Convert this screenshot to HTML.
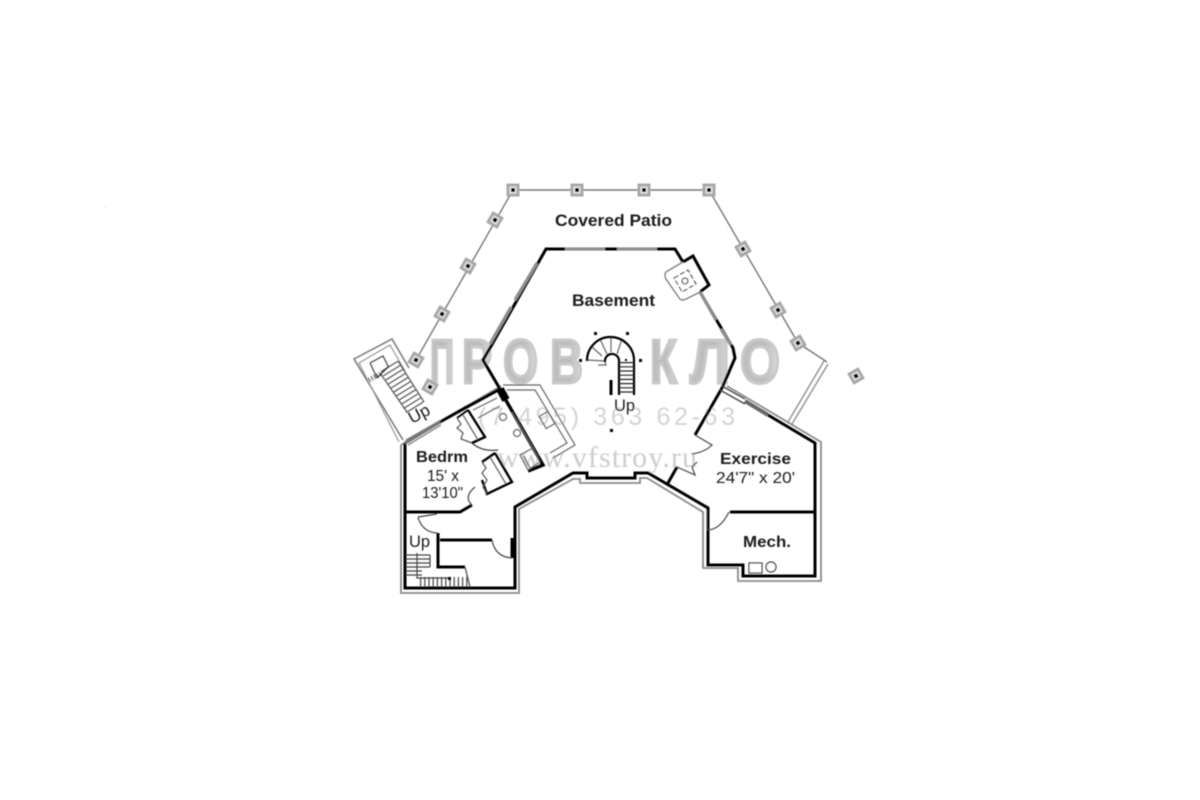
<!DOCTYPE html>
<html lang="en">
<head>
<meta charset="utf-8">
<title>Basement floor plan</title>
<style>
html,body{margin:0;padding:0;background:#fff;width:1200px;height:800px;overflow:hidden}
svg{display:block}
.lb{font-family:"Liberation Sans",Arial,sans-serif;font-weight:bold;fill:#1a1a1a}
.rg{font-family:"Liberation Sans",Arial,sans-serif;fill:#1a1a1a}
.logo{font-family:"Liberation Sans",Arial,sans-serif;font-weight:bold;font-size:62px;fill:url(#lg);stroke:#c9c9c9;stroke-width:3}
</style>
</head>
<body>
<svg width="1200" height="800" viewBox="0 0 1200 800" xmlns="http://www.w3.org/2000/svg">
<defs>
<linearGradient id="lg" x1="0" y1="0" x2="1" y2="0">
<stop offset="0" stop-color="#c0c0c0"/><stop offset=".6" stop-color="#bcbcbc"/><stop offset="1" stop-color="#dcdcdc"/>
</linearGradient>
<filter id="b" x="-5%" y="-5%" width="110%" height="110%"><feGaussianBlur stdDeviation="0.55"/></filter>
<g id="post"><rect x="-6.5" y="-6.5" width="13" height="13" fill="#a8a8a8"/><rect x="-3.5" y="-3.5" width="7" height="7" fill="#e8e8e8"/><rect x="-2" y="-2" width="4" height="4" fill="#000"/></g>
</defs>
<rect width="1200" height="800" fill="#fff"/>
<rect x="105" y="207" width="1" height="1" fill="#ddd"/>

<g filter="url(#b)">
<!-- watermark -->
<text class="logo" x="430" y="383" textLength="24" lengthAdjust="spacingAndGlyphs">П</text>
<text class="logo" x="462" y="383" textLength="30" lengthAdjust="spacingAndGlyphs">Р</text>
<text class="logo" x="503" y="383" textLength="35" lengthAdjust="spacingAndGlyphs">О</text>
<text class="logo" x="550" y="383" textLength="33" lengthAdjust="spacingAndGlyphs">В</text>
<text class="logo" x="650" y="383" textLength="27" lengthAdjust="spacingAndGlyphs">К</text>
<text class="logo" x="690" y="383" textLength="40" lengthAdjust="spacingAndGlyphs">Л</text>
<text class="logo" x="740" y="383" textLength="40" lengthAdjust="spacingAndGlyphs">О</text>
<text x="478" y="425" textLength="257" font-family="Liberation Sans,sans-serif" font-size="25" fill="#d4d4d4">(7 495) 363 62-63</text>
<text x="497" y="467" textLength="200" font-family="Liberation Serif,serif" font-size="30" fill="#cdcdcd">www.vfstroy.ru</text>

<!-- patio lines -->
<g fill="none" stroke="#777" stroke-width="1.4">
<path d="M416 360L513 190H709L798 343L827 362"/>
<path d="M824 361L788 422M828 364L792 424" stroke="#909090"/>
</g>
<use href="#post" x="513" y="190"/><use href="#post" x="577" y="190"/><use href="#post" x="644" y="190"/><use href="#post" x="709" y="190"/>
<use href="#post" transform="translate(495 220) rotate(30)"/><use href="#post" transform="translate(468 266) rotate(30)"/><use href="#post" transform="translate(442 314) rotate(30)"/><use href="#post" transform="translate(416 360) rotate(30)"/><use href="#post" transform="translate(430 387) rotate(30)"/>
<use href="#post" transform="translate(743 249) rotate(-30)"/><use href="#post" transform="translate(778 310) rotate(-30)"/><use href="#post" transform="translate(798 343) rotate(-30)"/><use href="#post" transform="translate(856 376) rotate(-30)"/>

<!-- outer gray outline -->
<path d="M401 445V593H519V509L573 479H580V483H640V478H647L703 512V568H738V581H821V442L727 386M501 386L401 445" fill="none" stroke="#8a8a8a" stroke-width="1.8"/>

<!-- main walls -->
<g fill="none" stroke="#000" stroke-width="3" stroke-linejoin="miter">
<path d="M490 348L546 249H675L683 262L693 256L709 285L700 292L733 348L735 358L722 388L695 435" />
<path d="M490 348L483 360L500 389L465 408L440 422"/>
<path d="M405 443V588H515V507L573 473H587V478H635V473H648L708 508V565H743V576H815V443L768 415"/>
<path d="M405 512H460L472 505M730 512H815"/>
<path d="M677 467L668 483"/>
<path d="M440 540H492M438 533V567H465M512 538V558"/>
<path d="M500 390L543 465L528 471" stroke-width="3.4"/>
</g>
<path d="M500 389L506 400" stroke="#000" stroke-width="8" fill="none"/>

<!-- window segments -->
<g fill="none" stroke="#8e8e8e" stroke-width="3.2">
<path d="M565 249H605M617 249H657"/>
<path d="M537 263L515 300M511 307L490 344"/>
<path d="M700 292L716 320M721 329L731 345"/>
<path d="M745 401L768 415" stroke="#666" stroke-width="4"/>
<path d="M440 422L405 443" stroke="#777" stroke-width="3.4"/>
</g>
<path d="M722 386L745 399M720 390L745 404" stroke="#444" stroke-width="1.4" fill="none"/>
<path d="M441 420L406 440M441 425L408 445" stroke="#777" stroke-width="1.2" fill="none"/>

<!-- fireplace -->
<path d="M683 262L666 272Q664 275 666 279L680 299Q682 301 686 299L700 292" fill="#fff" stroke="#777" stroke-width="1.4"/>
<rect x="-8" y="-8" width="16" height="16" transform="translate(685 281) rotate(-30)" fill="none" stroke="#444" stroke-width="1.2" stroke-dasharray="5 2"/>
<circle cx="685" cy="281" r="3" fill="none" stroke="#333" stroke-width="1.2"/>

<!-- doors and closets -->
<g fill="none" stroke="#444" stroke-width="1.2">
<path d="M695 435L712 445Q705 452 692 454"/>
<path d="M677 467L695 475L692 467L697 462"/>
<path d="M707 510V530Q720 530 729 512" />
<path d="M418 517Q422 532 437 533M418 517L437 514"/>
<path d="M492 540Q495 557 512 558"/>
<path d="M472 505Q463 497 475 487"/>
<path d="M472 443Q482 452 498 450"/>
</g>

<!-- bedroom closets -->
<g fill="none" stroke="#000" stroke-width="2.4">
<path d="M468 410L485 437L472 443"/>
<path d="M457 418L468 410" stroke-width="1.8"/>
<path d="M495 453L512 482L487 494L482 480" />
<path d="M482 462L495 453"/>
</g>
<g fill="none" stroke="#555" stroke-width="1.2">
<path d="M457 418L461 424L457 428L463 433L461 439L472 443M463 415L478 440"/>
<path d="M482 462L486 468L482 473L487 480L483 487L487 494M490 457L506 484"/>
</g>

<!-- bath -->
<g fill="none" stroke="#666" stroke-width="1.2">
<path d="M503 385H540L575 445L553 458"/>
<path d="M507 390H535L567 443L550 453"/>
<path d="M473 410L497 398M478 418L500 406"/>
<path d="M512 412L533 448"/>
<rect x="-5" y="-7" width="10" height="14" transform="translate(547 420) rotate(-30)"/>
<circle cx="503" cy="417" r="3.5"/><circle cx="517" cy="433" r="3.5"/>
<path d="M520 455L533 448L540 462L528 470ZM524 456L530 468"/>
</g>

<!-- left exterior stair -->
<g fill="none">
<path d="M403 440L354 359L392 339L409 368" stroke="#777" stroke-width="1.5"/>
<path d="M399 442L359 363L390 345L405 371" stroke="#999" stroke-width="1.2"/>
<path d="M370 363L383 356L388 366M370 363L377 378" stroke="#444" stroke-width="1.2"/>
<line x1="389" y1="366" x2="415" y2="408" stroke="#555" stroke-width="20" stroke-dasharray="1.2 3.6"/>
<path d="M380 373L407 412M398 361L424 402" stroke="#555" stroke-width="1.2"/>
<path d="M369 380L380 374" stroke="#555" stroke-width="5" stroke-dasharray="1 2"/>
<path d="M377 378L389 366" stroke="#222" stroke-width="1.2"/>
</g>

<!-- center spiral stair -->
<g fill="none" stroke="#666" stroke-width="1.2">
<path d="M600 339L607 354M611 337V352M622 339L617 354M592 347L602 356"/>
<path d="M587 360L605 361L606 365H598"/>
</g>
<path d="M587 361A23.5 23.5 0 0 1 634 360V395M605 362A7 7 0 0 1 619 360V395" fill="none" stroke="#000" stroke-width="2.2"/>
<line x1="626.5" y1="362" x2="626.5" y2="395" stroke="#222" stroke-width="15" stroke-dasharray="1.2 3"/>
<line x1="611" y1="380" x2="611" y2="395" stroke="#000" stroke-width="3"/>
<g fill="#000">
<rect x="594" y="332" width="3" height="3"/><rect x="626" y="332" width="3" height="3"/><rect x="639" y="359" width="3" height="3"/><rect x="579" y="359" width="3" height="3"/><rect x="610" y="429" width="3" height="3"/><rect x="625" y="359" width="2" height="2"/>
</g>

<!-- bottom-left stair -->
<g fill="none" stroke="#444" stroke-width="1.2">
<path d="M406 555H430M406 559H430M406 563H430M406 567H430M406 571H422M406 575H422"/>
<path d="M417 553V578H450M430 555V567"/>
<path d="M465 567L470 587"/>
</g>
<line x1="420" y1="582" x2="468" y2="582" stroke="#444" stroke-width="10" stroke-dasharray="1.2 3"/>
<rect x="448" y="577" width="3" height="3" fill="#000"/>

<!-- mech fixtures -->
<rect x="749" y="563" width="13" height="10" fill="#fff" stroke="#333" stroke-width="1.2"/>
<circle cx="771" cy="567" r="5" fill="#fff" stroke="#333" stroke-width="1.2"/>

<!-- labels -->
<text class="lb" x="555" y="226" font-size="16.5" textLength="117" lengthAdjust="spacingAndGlyphs">Covered Patio</text>
<text class="lb" x="572" y="306" font-size="16.5" textLength="83" lengthAdjust="spacingAndGlyphs">Basement</text>
<text class="lb" x="416" y="462" font-size="15.5" textLength="52" lengthAdjust="spacingAndGlyphs">Bedrm</text>
<text class="rg" x="427" y="481" font-size="15.5" textLength="32" lengthAdjust="spacingAndGlyphs">15' x</text>
<text class="rg" x="422" y="498" font-size="15.5" textLength="41" lengthAdjust="spacingAndGlyphs">13'10"</text>
<text class="lb" x="720" y="464" font-size="15.5" textLength="71" lengthAdjust="spacingAndGlyphs">Exercise</text>
<text class="rg" x="716" y="483" font-size="15.5" textLength="79" lengthAdjust="spacingAndGlyphs">24'7" x 20'</text>
<text class="lb" x="743" y="547" font-size="15.5" textLength="48" lengthAdjust="spacingAndGlyphs">Mech.</text>
<text class="rg" x="614" y="411" font-size="17" textLength="21" lengthAdjust="spacingAndGlyphs">Up</text>
<text class="rg" x="409" y="547" font-size="17" textLength="21" lengthAdjust="spacingAndGlyphs">Up</text>
<text class="rg" font-size="17" transform="translate(412 424) rotate(-28)" textLength="22" lengthAdjust="spacingAndGlyphs">Up</text>
</g>
</svg>
</body>
</html>
